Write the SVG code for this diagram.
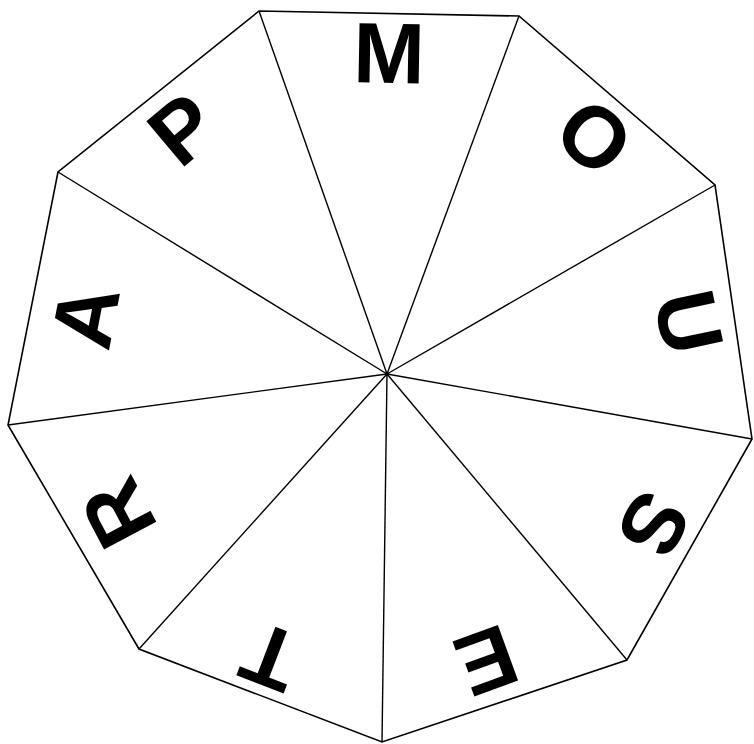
<svg xmlns="http://www.w3.org/2000/svg" width="754" height="744" viewBox="0 0 754 744">
<style>
.edge{fill:none;stroke:#000;stroke-width:1.6;stroke-linejoin:miter}
.spoke{stroke:#000;stroke-width:1.4}
.ltr{font-family:"Liberation Sans",Arial,sans-serif;font-weight:bold;font-size:86px;fill:#000;text-anchor:middle}
</style>
<rect width="754" height="744" fill="#fff"/>
<g id="connectors">
<polygon class="edge" points="259,11 519,16 715,185 752,439 627,660 382,742 139,649 8,425 58,172"/>
<line class="spoke" x1="387" y1="374" x2="259" y2="11"/>
<line class="spoke" x1="387" y1="374" x2="519" y2="16"/>
<line class="spoke" x1="387" y1="374" x2="715" y2="185"/>
<line class="spoke" x1="387" y1="374" x2="752" y2="439"/>
<line class="spoke" x1="387" y1="374" x2="627" y2="660"/>
<line class="spoke" x1="387" y1="374" x2="382" y2="742"/>
<line class="spoke" x1="387" y1="374" x2="139" y2="649"/>
<line class="spoke" x1="387" y1="374" x2="8" y2="425"/>
<line class="spoke" x1="387" y1="374" x2="58" y2="172"/>
<circle cx="387" cy="374" r="2" fill="#000"/>
</g>
<g id="node-M" transform="translate(389,52) rotate(1)"><text class="ltr" x="0" y="31">M</text></g>
<g id="node-O" transform="translate(595,136) rotate(41)"><text class="ltr" x="0" y="31">O</text></g>
<g id="node-U" transform="translate(690,322) rotate(78)"><text class="ltr" x="0" y="31">U</text></g>
<g id="node-S" transform="translate(655,525) rotate(119)"><text class="ltr" x="0" y="31">S</text></g>
<g id="node-E" transform="translate(487,662) rotate(160)"><text class="ltr" x="0" y="31">E</text></g>
<g id="node-T" transform="translate(270,658) rotate(201)"><text class="ltr" x="0" y="31">T</text></g>
<g id="node-R" transform="translate(117,514) rotate(242)"><text class="ltr" x="0" y="31">R</text></g>
<g id="node-A" transform="translate(84,316) rotate(281)"><text class="ltr" x="0" y="31">A</text></g>
<g id="node-P" transform="translate(182,128) rotate(320)"><text class="ltr" x="0" y="31">P</text></g>
</svg>
